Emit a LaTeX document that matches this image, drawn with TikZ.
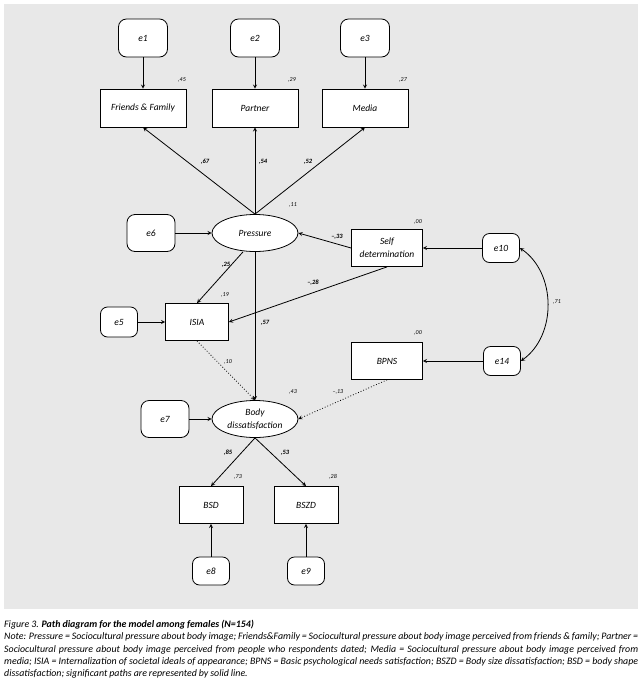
\documentclass[tikz,border=0pt]{standalone}
\usepackage{fontspec}
\setmainfont{Carlito}
\usetikzlibrary{shapes.geometric, arrows}
\definecolor{panelgray}{RGB}{232,232,232}
\newcommand{\tightspaces}{\spaceskip=.2em plus .3em minus .1em\relax}

\begin{document}
\begin{tikzpicture}[x=1pt,y=-1pt,>=stealth,
    every node/.style={font=\itshape\fontsize{9.5}{13}\selectfont},
    obsbox/.style={draw,rectangle,fill=white,thick,inner sep=0pt,minimum width=64pt,minimum height=37pt,align=center},
    latent/.style={draw,ellipse,fill=white,thick,inner sep=0pt,minimum width=86pt,minimum height=37pt,align=center},
    errbig/.style={draw,rectangle,rounded corners=8pt,fill=white,thick,inner sep=0pt,minimum width=48pt,minimum height=37pt},
    errsmall/.style={draw,rectangle,rounded corners=7pt,fill=white,thick,inner sep=0pt,minimum width=37pt,minimum height=29pt},
    rsq/.style={font=\itshape\fontsize{6}{7}\selectfont},
    coef/.style={font=\bfseries\itshape\fontsize{6.5}{7}\selectfont},
    sig/.style={thick,->},
    nonsig/.style={thick,->,dotted}]
    \useasboundingbox (0,0) rectangle (641,681);
    \fill[panelgray] (4,4) rectangle (638,609);

    \node[obsbox,minimum width=86pt,minimum height=38pt] (ff) at (143,108) {Friends \& Family};
    \node[obsbox,minimum width=86pt,minimum height=38pt] (partner) at (255,108) {Partner};
    \node[obsbox,minimum width=86pt,minimum height=38pt] (media) at (365,108) {Media};
    \node[errbig,minimum width=49pt,minimum height=38pt,above of=ff,node distance=70pt] (e1) {e1};
    \node[errbig,minimum width=49pt,minimum height=38pt,above of=partner,node distance=70pt] (e2) {e2};
    \node[errbig,minimum width=49pt,minimum height=38pt,above of=media,node distance=70pt] (e3) {e3};

    \node[latent] (pressure) at (255,233) {Pressure};
    \node[errbig,left of=pressure,node distance=104pt] (e6) {e6};
    \node[obsbox,minimum width=71pt] (selfdet) at (387,248) {Self\\determination};
    \node[errsmall,right of=selfdet,node distance=114pt] (e10) {e10};
    \node[obsbox,minimum width=63pt] (isia) at (197,322) {ISIA};
    \node[errsmall,minimum height=30pt,left of=isia,node distance=78pt] (e5) {e5};
    \node[obsbox,minimum width=71pt] (bpns) at (387,361) {BPNS};
    \node[errsmall,right of=bpns,node distance=115pt] (e14) {e14};
    \node[latent] (body) at (255,419) {Body\\dissatisfaction};
    \node[errbig,left of=body,node distance=90pt] (e7) {e7};
    \node[obsbox] (bsd) at (211,505) {BSD};
    \node[obsbox] (bszd) at (306,505) {BSZD};
    \node[errsmall,minimum height=28pt,below of=bsd,node distance=66pt] (e8) {e8};
    \node[errsmall,minimum height=28pt,below of=bszd,node distance=66pt] (e9) {e9};

    \node[rsq] (r45) at (182,80) {,45};
    \node[rsq] (r29) at (292,80) {,29};
    \node[rsq] (r27) at (403,80) {,27};
    \node[rsq] (r11) at (293,205) {,11};
    \node[rsq] (r00a) at (418,222) {,00};
    \node[rsq] (r19) at (225,295) {,19};
    \node[rsq] (r00b) at (418,333) {,00};
    \node[rsq] (r43) at (293,392) {,43};
    \node[rsq] (r73) at (238,477) {,73};
    \node[rsq] (r28) at (333,477) {,28};

    \node[coef] (c67) at (205,162) {,67};
    \node[coef] (c54) at (263,162) {,54};
    \node[coef] (c52) at (308,162) {,52};
    \node[coef] (c33) at (337,237) {--,33};
    \node[coef] (c25) at (226,265) {,25};
    \node[coef] (c28) at (313,283) {--,28};
    \node[coef] (c57) at (265,323) {,57};
    \node[rsq] (c10) at (228,362) {,10};
    \node[rsq] (c13) at (338,392) {--,13};
    \node[coef] (c85) at (228,453) {,85};
    \node[coef] (c53) at (285,453) {,53};
    \node[rsq] (c71) at (557,302) {,71};

    \draw[sig] (e1) -- (ff);
    \draw[sig] (e2) -- (partner);
    \draw[sig] (e3) -- (media);
    \draw[sig] (pressure.north) -- (ff.south);
    \draw[sig] (pressure.north) -- (partner.south);
    \draw[sig] (pressure.north) -- (media.south);
    \draw[sig] (e6) -- (pressure);
    \draw[sig] (selfdet.west) -- (pressure.east);
    \draw[sig] (e10) -- (selfdet);
    \draw[sig] ([xshift=-12pt]pressure.south) -- (isia.north);
    \draw[sig] (selfdet.south) -- (isia.east);
    \draw[sig] (e5) -- (isia);
    \draw[sig] (pressure) -- (body);
    \draw[nonsig] (isia.south) -- (body.north);
    \draw[sig] (e14) -- (bpns);
    \draw[nonsig] (bpns.south) -- (body.east);
    \draw[sig] (e7) -- (body);
    \draw[sig] (body.south) -- (bsd.north);
    \draw[sig] (body.south) -- (bszd.north);
    \draw[sig] (e8) -- (bsd);
    \draw[sig] (e9) -- (bszd);
    \draw[thick,<->] (e10.east) to[bend left=55] (e14.east);

    \node[anchor=base west,inner sep=0pt,text width=634pt,align=justify,
        font=\itshape\fontsize{9.9}{12.3}\selectfont] (caption) at (4,627.5)
        {\tightspaces Figure 3. \textbf{Path diagram for the model among females (N=154)}\\
        Note: Pressure = Sociocultural pressure about body image; Friends\&Family = Sociocultural pressure about body image perceived from friends \& family; Partner =\linebreak
        Sociocultural pressure about body image perceived from people who respondents dated; Media = Sociocultural pressure about body image perceived from\linebreak
        media; ISIA = Internalization of societal ideals of appearance; BPNS = Basic psychological needs satisfaction; BSZD = Body size dissatisfaction; BSD = body shape\linebreak
        dissatisfaction; significant paths are represented by solid line.};
\end{tikzpicture}
\end{document}
